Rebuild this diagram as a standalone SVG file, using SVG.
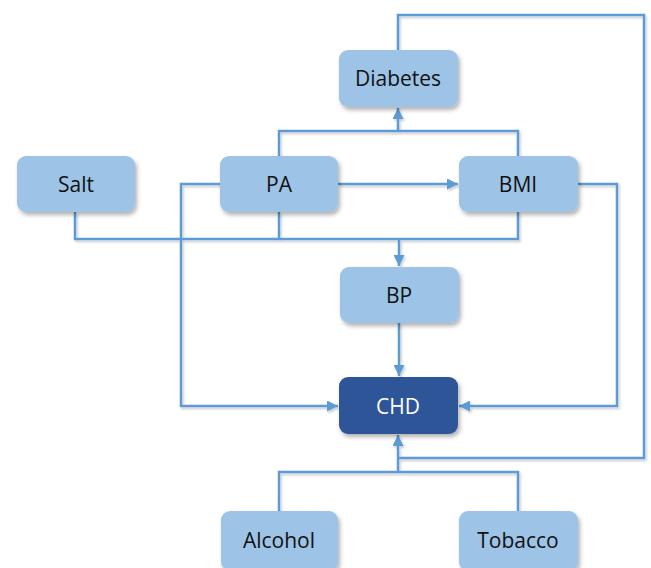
<svg xmlns="http://www.w3.org/2000/svg" width="651" height="568" viewBox="0 0 651 568">
<defs>
<filter id="sh" x="-10%" y="-10%" width="130%" height="140%">
<feDropShadow dx="2" dy="3" stdDeviation="2" flood-color="#000" flood-opacity="0.3"/>
</filter>
<filter id="lsh" x="-5%" y="-5%" width="110%" height="110%">
<feDropShadow dx="1.5" dy="2" stdDeviation="1.2" flood-color="#000" flood-opacity="0.2"/>
</filter>
<marker id="ah" viewBox="0 0 10 10" refX="10" refY="5" markerWidth="11" markerHeight="11" markerUnits="userSpaceOnUse" orient="auto">
<path d="M0,0 L10,5 L0,10 z" fill="#5B9BD5"/>
</marker>
</defs>
<style>
.box{fill:#9DC3E6;filter:url(#sh)}
.dark{fill:#2F5597;filter:url(#sh)}
.t{font-family:"Open Sans","Noto Sans",sans-serif;font-size:21px;fill:#111;text-anchor:middle;dominant-baseline:central}
.tw{fill:#fff}
.c{fill:none;stroke:#5B9BD5;stroke-width:2.5}
.a{marker-end:url(#ah)}
</style>
<rect width="651" height="568" fill="#fff"/>
<g id="connectors" filter="url(#lsh)">
<path class="c" d="M398,50 V15 H644 V458 H398"/>
<path class="c a" d="M398,472 V435"/>
<path class="c" d="M279,511 V472 H518 V511"/>
<path class="c a" d="M279,156 V131 H518 V156 M398,131 V108"/>
<path class="c a" d="M338,184 H458"/>
<path class="c a" d="M220,184 H181 V406 H338"/>
<path class="c a" d="M578,184 H617 V406 H459"/>
<path class="c" d="M75,212 V239 H518 V212 M279,212 V239"/>
<path class="c a" d="M399,239 V266"/>
<path class="c a" d="M399,323 V376"/>
</g>
<g id="diabetes"><rect class="box" x="339" y="50" width="119" height="57" rx="9"/><text class="t" x="398" y="78">Diabetes</text></g>
<g id="salt"><rect class="box" x="17" y="156" width="118" height="56" rx="9"/><text class="t" x="76" y="184">Salt</text></g>
<g id="pa"><rect class="box" x="220" y="156" width="118" height="56" rx="9"/><text class="t" x="279" y="184">PA</text></g>
<g id="bmi"><rect class="box" x="459" y="156" width="119" height="56" rx="9"/><text class="t" x="518" y="184">BMI</text></g>
<g id="bp"><rect class="box" x="340" y="267" width="119" height="56" rx="9"/><text class="t" x="399" y="295">BP</text></g>
<g id="chd"><rect class="dark" x="339" y="377" width="119" height="57" rx="9"/><text class="t tw" x="398" y="406">CHD</text></g>
<g id="alcohol"><rect class="box" x="221" y="511" width="117" height="60" rx="9"/><text class="t" x="279" y="540">Alcohol</text></g>
<g id="tobacco"><rect class="box" x="459" y="511" width="119" height="60" rx="9"/><text class="t" x="518" y="540">Tobacco</text></g>
</svg>
